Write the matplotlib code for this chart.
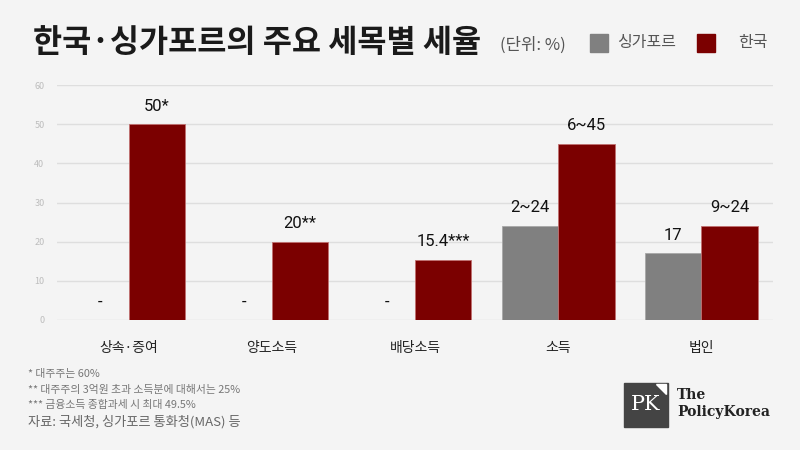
import numpy as np
import matplotlib
matplotlib.use('Agg')
import matplotlib.pyplot as plt
from matplotlib.patches import Rectangle, Polygon

plt.rcParams['font.family'] = ['Noto Sans CJK KR', 'DejaVu Sans']

categories = ['상속·증여', '양도소득', '배당소득', '소득', '법인']
singapore = [0, 0, 0, 24, 17]
korea = [50, 20, 15.4, 45, 24]
singapore_labels = ['-', '-', '-', '2~24', '17']
korea_labels = ['50*', '20**', '15.4***', '6~45', '9~24']
yticks = [0, 10, 20, 30, 40, 50, 60]
footnotes = [
    '* 대주주는 60%',
    '** 대주주의 3억원 초과 소득분에 대해서는 25%',
    '*** 금융소득 종합과세 시 최대 49.5%',
]
source = '자료: 국세청, 싱가포르 통화청(MAS) 등'

bg = '#f4f4f4'
red = '#7b0000'
grey = '#808080'

fig = plt.figure(figsize=(8, 4.5), dpi=100, facecolor=bg)
ax = fig.add_axes([0.07125, 0.2889, 0.895, 0.5222], facecolor=bg)

x = np.arange(len(categories))
w = 0.394
b1 = ax.bar(x - w / 2, singapore, w, color=grey, edgecolor='#a8a8a8', linewidth=0.6, zorder=3)
b2 = ax.bar(x + w / 2, korea, w, color=red, edgecolor='#c07070', linewidth=0.6, zorder=3)

for bars, labels in [(b1, singapore_labels), (b2, korea_labels)]:
    for rect, lab in zip(bars, labels):
        ax.annotate(lab, (rect.get_x() + rect.get_width() / 2, rect.get_height()),
                    xytext=(0, 13), textcoords='offset points',
                    ha='center', va='center', fontsize=12, color='#111111',
                    family=['Roboto', 'DejaVu Sans'])

ax.set_xlim(-0.5, 4.5)
ax.set_ylim(0, 60)
ax.set_yticks(yticks)
ax.set_xticks(x)
ax.set_xticklabels(categories, fontsize=10, color='#222222')
ax.tick_params(axis='y', length=0, labelsize=6.5, labelcolor='#bdbdbd', pad=9)
ax.tick_params(axis='x', length=0, pad=15)
ax.grid(True, axis='y', color='#dedede', linewidth=1, zorder=0)
for s in ax.spines.values():
    s.set_visible(False)

# title + legend
fig.text(33 / 800, 1 - 43 / 450, '한국·싱가포르의 주요 세목별 세율', fontsize=22.8,
         fontweight='bold', color='#1a1a1a', va='center', ha='left')
fig.text(500 / 800, 1 - 45 / 450, '(단위: %)', fontsize=12, color='#555555',
         va='center', ha='left')
fig.patches.append(Rectangle((590 / 800, 1 - 52 / 450), 18 / 800, 18 / 450,
                             transform=fig.transFigure, color=grey, figure=fig))
fig.text(617 / 800, 1 - 43 / 450, '싱가포르', fontsize=11.5, color='#555555',
         va='center', ha='left')
fig.patches.append(Rectangle((697 / 800, 1 - 52 / 450), 18 / 800, 18 / 450,
                             transform=fig.transFigure, color=red, figure=fig))
fig.text(738 / 800, 1 - 43 / 450, '한국', fontsize=11.5, color='#555555',
         va='center', ha='left')

# footnotes
for i, note in enumerate(footnotes):
    fig.text(28 / 800, 1 - (374 + 15.5 * i) / 450, note, fontsize=7.8,
             color='#777777', va='center', ha='left')
fig.text(28 / 800, 1 - 422 / 450, source, fontsize=9.5, color='#666666',
         va='center', ha='left')

# logo
fig.patches.append(Rectangle((624 / 800, 1 - 427 / 450), 44 / 800, 44 / 450,
                             transform=fig.transFigure, color='#444444', figure=fig))
fig.patches.append(Polygon([(656 / 800, 1 - 384 / 450), (666 / 800, 1 - 384 / 450),
                            (666 / 800, 1 - 394 / 450)], closed=True,
                           transform=fig.transFigure, color='white', figure=fig))
fig.text(646 / 800, 1 - 405 / 450, 'PK', fontsize=15, family='DejaVu Serif',
         color='white', va='center', ha='center')
fig.text(677 / 800, 1 - 395 / 450, 'The', fontsize=10, family='DejaVu Serif',
         fontweight='bold', color='#222222', va='center', ha='left')
fig.text(677 / 800, 1 - 412 / 450, 'PolicyKorea', fontsize=10, family='DejaVu Serif',
         fontweight='bold', color='#222222', va='center', ha='left')

fig.savefig('out.png', dpi=100, facecolor=bg)
